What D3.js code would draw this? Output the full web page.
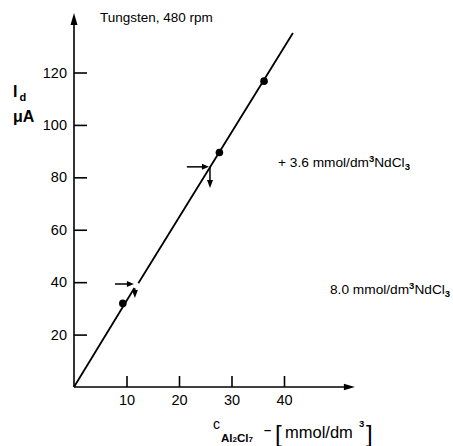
<!DOCTYPE html>
<html>
<head>
<meta charset="utf-8">
<script src="https://cdn.jsdelivr.net/npm/d3@7"></script>
<style>
  html, body { margin: 0; padding: 0; background: #fff; }
  svg { display: block; }
  text { font-family: "Liberation Sans", Arial, sans-serif; fill: #000; }
</style>
</head>
<body>
<div id="chart"></div>
<script>
// ---- data ----
const xTicks = [10, 20, 30, 40];
const yTicks = [20, 40, 60, 80, 100, 120];
const pointsX = [9.3, 27.7, 36.2];
const pointsY = [31.9, 89.5, 116.7];
// fitted line, two pieces (break at the first addition)
const lineLowerX = [0, 11.5];
const lineLowerY = [0, 37.8];
const lineUpperX = [12.25, 41.7];
const lineUpperY = [39.6, 135.1];
// addition arrows (horizontal: from -> tip; vertical: from -> tip)
const hArrowFromX = [7.8, 21.5];
const hArrowToX = [11.4, 25.7];
const hArrowY = [39.3, 84.0];
const vArrowX = [11.6, 25.9];
const vArrowFromY = [37.6, 84.0];
const vArrowToY = [34.0, 75.9];
const xAxisMax = 53.5;
const yAxisMax = 142.7;
const titleText = "Tungsten, 480 rpm";
const noteUpper = "+ 3.6 mmol/dm";
const noteLower = "8.0 mmol/dm";

// ---- drawing ----
const W = 453, H = 446;
const svg = d3.select("#chart").append("svg").attr("width", W).attr("height", H);

const x = d3.scaleLinear().domain([0, 40]).range([74, 284]);
const y = d3.scaleLinear().domain([0, 120]).range([387, 72.5]);

// axes lines with arrows
const ax = svg.append("g");
ax.append("line").attr("x1", x(0)).attr("y1", y(0)).attr("x2", x(0)).attr("y2", y(yAxisMax) + 10)
  .attr("stroke", "#000").attr("stroke-width", 1.6);
ax.append("path")
  .attr("d", `M${x(0)},${y(yAxisMax)} L${x(0) - 3.5},${y(yAxisMax) + 12} L${x(0) + 3.5},${y(yAxisMax) + 12} Z`)
  .attr("fill", "#000");
ax.append("line").attr("x1", x(0)).attr("y1", y(0)).attr("x2", x(xAxisMax) - 9).attr("y2", y(0))
  .attr("stroke", "#000").attr("stroke-width", 1.6);
ax.append("path")
  .attr("d", `M${x(xAxisMax)},${y(0)} L${x(xAxisMax) - 11},${y(0) - 3.2} L${x(xAxisMax) - 11},${y(0) + 3.2} Z`)
  .attr("fill", "#000");

// d3 axes for ticks + labels
const yAxis = d3.axisLeft(y).tickValues(yTicks).tickSizeInner(-13).tickSizeOuter(0).tickPadding(7);
const gy = svg.append("g").attr("transform", `translate(${x(0)},0)`).call(yAxis);
gy.select(".domain").remove();
gy.selectAll(".tick line").attr("stroke", "#000").attr("stroke-width", 1.6);
gy.selectAll(".tick text").attr("font-size", 14.5).attr("font-family", "Liberation Sans, Arial, sans-serif").attr("fill", "#000");

const xAxis = d3.axisBottom(x).tickValues(xTicks).tickSizeInner(-11).tickSizeOuter(0).tickPadding(8);
const gx = svg.append("g").attr("transform", `translate(0,${y(0)})`).call(xAxis);
gx.select(".domain").remove();
gx.selectAll(".tick line").attr("stroke", "#000").attr("stroke-width", 1.6);
gx.selectAll(".tick text").attr("font-size", 14.5).attr("font-family", "Liberation Sans, Arial, sans-serif").attr("fill", "#000");

// fitted line pieces
const lineGen = d3.line().x(d => x(d[0])).y(d => y(d[1]));
svg.append("path").attr("d", lineGen(lineLowerX.map((v, i) => [v, lineLowerY[i]])))
  .attr("stroke", "#000").attr("stroke-width", 1.8).attr("fill", "none");
svg.append("path").attr("d", lineGen(lineUpperX.map((v, i) => [v, lineUpperY[i]])))
  .attr("stroke", "#000").attr("stroke-width", 1.8).attr("fill", "none");

// points
svg.selectAll("circle.pt").data(pointsX.map((v, i) => [v, pointsY[i]])).join("circle")
  .attr("class", "pt").attr("cx", d => x(d[0])).attr("cy", d => y(d[1])).attr("r", 3.8).attr("fill", "#000");

// addition arrows
hArrowFromX.forEach((fx, i) => {
  const x1 = x(fx), x2 = x(hArrowToX[i]), yy = y(hArrowY[i]);
  svg.append("line").attr("x1", x1).attr("y1", yy).attr("x2", x2 - 6).attr("y2", yy)
    .attr("stroke", "#000").attr("stroke-width", 1.5);
  svg.append("path").attr("d", `M${x2},${yy} L${x2 - 7},${yy - 3} L${x2 - 7},${yy + 3} Z`).attr("fill", "#000");
  const vx = x(vArrowX[i]), y1 = y(vArrowFromY[i]), y2 = y(vArrowToY[i]);
  svg.append("line").attr("x1", vx).attr("y1", y1).attr("x2", vx).attr("y2", y2 - 6)
    .attr("stroke", "#000").attr("stroke-width", 1.5);
  svg.append("path").attr("d", `M${vx},${y2} L${vx - 3},${y2 - 8} L${vx + 3},${y2 - 8} Z`).attr("fill", "#000");
});

// title
svg.append("text").attr("x", 100).attr("y", 22).attr("font-size", 13.5).text(titleText);

// y axis label
const yl = svg.append("text").attr("x", 13).attr("y", 97).attr("font-size", 16).attr("font-weight", "bold");
yl.append("tspan").text("I");
yl.append("tspan").attr("font-size", 11).attr("dy", 4).attr("dx", 2).text("d");
svg.append("text").attr("x", 13).attr("y", 122).attr("font-size", 16).attr("font-weight", "bold").text("\u03BCA");

// annotations
function note(txt, x0, y0) {
  const t = svg.append("text").attr("x", x0).attr("y", y0).attr("font-size", 13.7);
  t.append("tspan").text(txt);
  t.append("tspan").attr("font-size", 9.5).attr("dy", -5).attr("font-weight", "bold").text("3");
  t.append("tspan").attr("dy", 5).text("NdCl");
  t.append("tspan").attr("font-size", 9.5).attr("dy", 3).attr("font-weight", "bold").text("3");
}
note(noteUpper, 278, 167);
note(noteLower, 330, 294);

// x axis label
svg.append("text").attr("x", 213).attr("y", 429).attr("font-size", 14).text("c");
const sub = svg.append("text").attr("x", 221).attr("y", 442).attr("font-size", 11.5).attr("font-weight", "bold");
sub.append("tspan").text("Al");
sub.append("tspan").attr("font-size", 8).text("2");
sub.append("tspan").text("Cl");
sub.append("tspan").attr("font-size", 8).text("7");
svg.append("text").attr("x", 264).attr("y", 434).attr("font-size", 13).attr("font-weight", "bold").text("\u2013");
svg.append("text").attr("x", 275).attr("y", 442).attr("font-size", 24).text("[");
svg.append("text").attr("x", 285).attr("y", 438).attr("font-size", 16.5).text("mmol/dm");
svg.append("text").attr("x", 359).attr("y", 427).attr("font-size", 9.5).attr("font-weight", "bold").text("3");
svg.append("text").attr("x", 366).attr("y", 442).attr("font-size", 24).text("]");
</script>
</body>
</html>
